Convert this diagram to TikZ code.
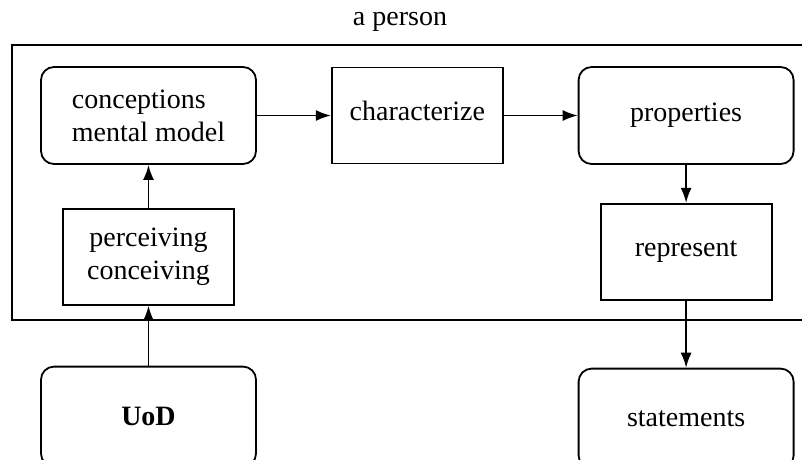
\documentclass[tikz,border=0pt]{standalone}
\usepackage{fontspec}
\setmainfont{Liberation Serif}
\usetikzlibrary{positioning, arrows.meta}
\tikzset{
x=1pt, y=-1pt, % pixel-like units, y running downwards
every node/.style={font=\fontsize{28}{33}\selectfont}, % text size of all labels
flow/.style={line width=1.8pt, -{Latex[length=15pt,width=11pt]}}, % the connecting arrows
roundbox/.style={draw, line width=1.8pt, rounded corners=13pt, minimum width=215pt, minimum height=97pt}, % rounded boxes
plainbox/.style={draw, line width=1.8pt, align=center, minimum width=171pt, minimum height=96pt}, % square boxes
}

\begin{document}
\begin{tikzpicture}
\clip (0,0) rectangle (802,459);
% the person frame, running off to the right
\draw[line width=1.8pt] (12,45) rectangle (830,320);
\node (person) at (400,22) {a person};
\node[roundbox, align=left] (concept) at (148.5,115.5) {conceptions\\mental model};
\node[plainbox, right=74pt of concept] (charact) {\raisebox{10pt}{characterize}};
\node[roundbox, right=74pt of charact] (props) {properties};
\node[plainbox, below=38pt of props] (repr) {represent};
\node[plainbox, below=43pt of concept] (perc) {perceiving\\conceiving};
\node[roundbox, below=60pt of perc, minimum height=100pt] (uod) {\textbf{UoD}};
\node[roundbox, below=67pt of repr, minimum height=100pt] (stmt) {statements};
\draw[flow] (concept) -- (charact);
\draw[flow] (charact) -- (props);
\draw[flow] (props) -- (repr);
\draw[flow] (repr) -- (stmt);
\draw[flow] (perc) -- (concept);
\draw[flow] (uod) -- (perc);
\end{tikzpicture}
\end{document}
